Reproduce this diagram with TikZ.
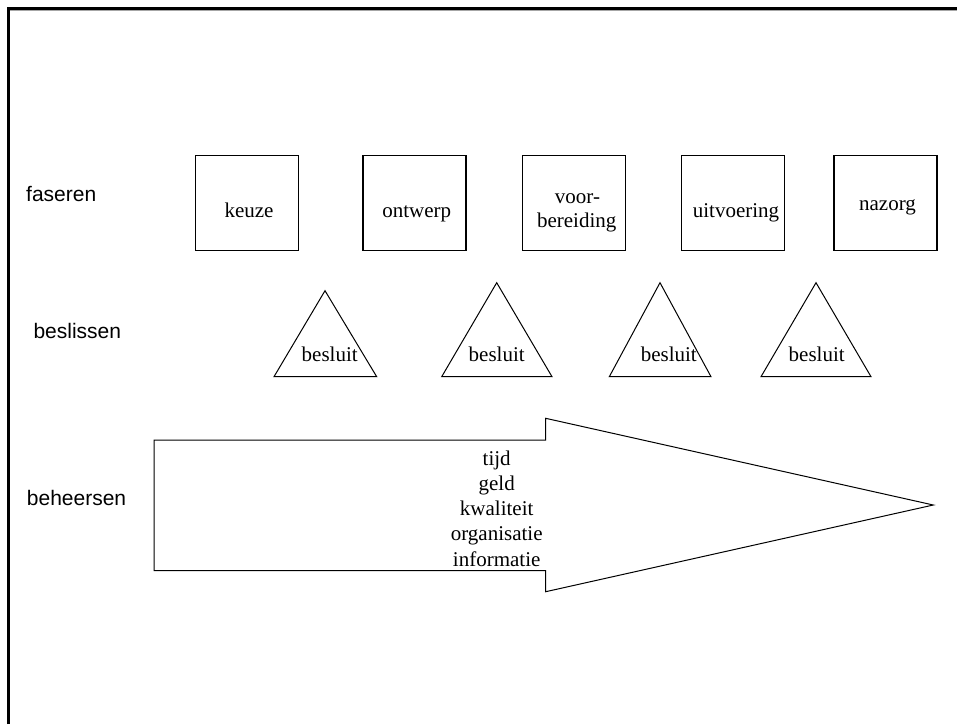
\documentclass[tikz,border=0pt]{standalone}
\usepackage{fontspec}
\setmainfont{Liberation Serif}
\newfontfamily\arialf{Liberation Sans}
\begin{document}
\begin{tikzpicture}[x=1pt,y=-1pt,
  phasebox/.style={draw, line width=1.4pt, minimum width=103pt, minimum height=95pt, inner sep=0pt, anchor=north west},
  sidelbl/.style={font=\arialf\fontsize{21}{25}\selectfont, anchor=base west, inner sep=0pt},
  txt/.style={font=\fontsize{21}{25}\selectfont, anchor=base, inner sep=0pt},
  tri/.style={draw, line width=1pt, line join=miter},
  framel/.style={line width=3pt}]
\useasboundingbox (0,0) rectangle (957,724);
% frame
\draw[gray!70, line width=1pt] (10,10.8) -- (957,10.8);
\draw[framel] (8.5,724) -- (8.5,8.5) -- (957,8.5);
% side labels
\node[sidelbl] (lfas) at (26,201.7) {faseren};
\node[sidelbl] (lbes) at (33.3,338) {beslissen};
\node[sidelbl] (lbeh) at (26.7,505) {beheersen};
% phase boxes
\node[phasebox] (b1) at (194.7,154.7) {};
\node[phasebox] (b2) at (362.3,154.7) {};
\node[phasebox] (b3) at (521.7,154.7) {};
\node[phasebox] (b4) at (681,154.7) {};
\node[phasebox] (b5) at (833.3,154.7) {};
\node[txt] (t1) at (249,217) {keuze};
\node[txt] (t2) at (416.7,217) {ontwerp};
\node[txt] (t3a) at (577.5,203) {voor-};
\node[txt] (t3b) at (576.7,227) {bereiding};
\node[txt] (t4) at (736,217) {uitvoering};
\node[txt] (t5) at (887.5,210) {nazorg};
% decision triangles
\draw[tri] (325,290.7) -- (274,376.7) -- (376.7,376.7) -- cycle;
\draw[tri] (496.7,282.7) -- (441.7,376.7) -- (552,376.7) -- cycle;
\draw[tri] (660,282.7) -- (609.3,376.7) -- (711,376.7) -- cycle;
\draw[tri] (816,282.7) -- (761,376.7) -- (871,376.7) -- cycle;
\node[txt] (d1) at (329.7,361.7) {besluit};
\node[txt] (d2) at (496.7,361.7) {besluit};
\node[txt] (d3) at (668.8,361.7) {besluit};
\node[txt] (d4) at (816.7,361.7) {besluit};
% big arrow
\draw[tri] (154,440) -- (545.7,440) -- (545.7,418.3) -- (933.3,505) -- (545.7,591.7) -- (545.7,570.7) -- (154,570.7) -- cycle;
\node[txt] (m1) at (496.7,465) {tijd};
\node[txt] (m2) at (496.7,490.5) {geld};
\node[txt] (m3) at (496.7,515.5) {kwaliteit};
\node[txt] (m4) at (496.7,540.5) {organisatie};
\node[txt] (m5) at (496.7,566) {informatie};
\end{tikzpicture}
\end{document}
